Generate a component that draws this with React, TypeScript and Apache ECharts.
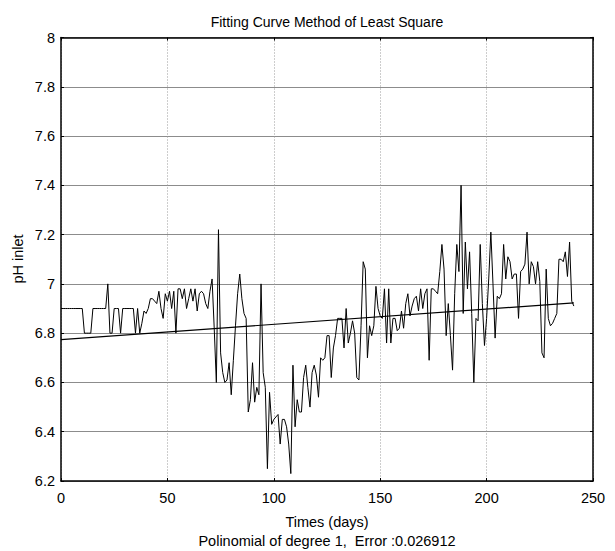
import React, { useEffect, useRef } from "react";
import * as echarts from "echarts";

const titleText = "Fitting Curve Method of Least Square";
const xAxisTitle = "Times (days)";
const subTitle = "Polinomial of degree 1,  Error :0.026912";
const yAxisTitle = "pH inlet";

// daily pH readings, index = day
const phValues: number[] = [
  6.9, 6.9, 6.9, 6.9, 6.9, 6.9, 6.9, 6.9, 6.9, 6.9,
  6.9, 6.8, 6.8, 6.8, 6.8, 6.9, 6.9, 6.9, 6.9, 6.9,
  6.9, 6.9, 7.0, 6.8, 6.8, 6.9, 6.9, 6.9, 6.8, 6.9,
  6.9, 6.9, 6.9, 6.9, 6.9, 6.8, 6.9, 6.8, 6.84, 6.89,
  6.88, 6.9, 6.94, 6.94, 6.93, 6.92, 6.97, 6.9, 6.86, 6.96,
  6.93, 6.97, 6.9, 6.97, 6.8, 6.98, 6.98, 6.94, 6.98, 6.9,
  6.94, 6.98, 6.93, 6.98, 6.89, 6.96, 6.97, 6.96, 6.92, 6.9,
  6.97, 7.02, 6.82, 6.6, 7.22, 6.72, 6.64, 6.6, 6.61, 6.68,
  6.55, 6.69, 6.83, 6.96, 7.04, 6.94, 6.88, 6.86, 6.48, 6.53,
  6.68, 6.52, 6.58, 6.55, 7.0, 6.64, 6.58, 6.25, 6.56, 6.43,
  6.45, 6.46, 6.47, 6.35, 6.45, 6.45, 6.42, 6.35, 6.23, 6.67,
  6.42, 6.53, 6.48, 6.48, 6.62, 6.67, 6.58, 6.5, 6.64, 6.67,
  6.63, 6.54, 6.7, 6.69, 6.7, 6.79, 6.79, 6.62, 6.74, 6.79,
  6.86, 6.86, 6.86, 6.74, 6.9, 6.76, 6.8, 6.85, 6.8, 6.62,
  6.61, 6.83, 7.09, 7.06, 6.7, 6.83, 6.79, 6.83, 6.99, 6.9,
  6.87, 6.86, 6.98, 6.76, 6.98, 6.76, 6.86, 6.86, 6.81, 6.82,
  6.89, 6.82, 6.92, 6.96, 6.87, 6.91, 6.94, 6.95, 6.89, 6.98,
  6.9, 6.96, 6.98, 6.69, 6.98, 6.98, 6.97, 6.96, 7.05, 7.16,
  7.06, 6.79, 6.92, 6.79, 6.65, 6.96, 7.16, 7.05, 7.4, 6.88,
  7.17, 6.98, 7.13, 6.88, 6.6, 6.86, 6.85, 7.16, 6.92, 6.75,
  6.86, 7.02, 7.21, 7.0, 6.78, 6.95, 6.94, 6.96, 7.16, 7.02,
  7.11, 7.09, 7.02, 7.04, 7.04, 6.86, 7.05, 7.06, 7.08, 7.21,
  7.0, 7.09, 7.07, 7.0, 7.09, 7.01, 6.72, 6.7, 7.06, 6.86,
  6.83, 6.84, 6.86, 6.88, 7.1, 7.1, 7.09, 7.13, 7.03, 7.17,
  6.93, 6.91,
];

// least-squares line (degree 1) endpoints
const fitDays: number[] = [0, 241];
const fitValues: number[] = [6.774, 6.923];

const xTicks = { min: 0, max: 250, interval: 50 };
const yTicks = { min: 6.2, max: 8, interval: 0.2 };

const FONT = "Liberation Sans, Arial, sans-serif";

export default function App() {
  const ref = useRef<HTMLDivElement>(null);
  useEffect(() => {
    if (!ref.current) return;
    const chart = echarts.init(ref.current, undefined, { renderer: "svg" });
    const dataPts = phValues.map((v, i) => [i, v]);
    const fitPts = fitDays.map((d, i) => [d, fitValues[i]]);
    const gridLeft = 61, gridTop = 37.5, gridRight = 22, gridBottom = 70;
    const commonX = {
      type: "value" as const,
      min: xTicks.min,
      max: xTicks.max,
      interval: xTicks.interval,
    };
    const commonY = {
      type: "value" as const,
      min: yTicks.min,
      max: yTicks.max,
      interval: yTicks.interval,
    };
    chart.setOption({
      animation: false,
      backgroundColor: "#ffffff",
      textStyle: { fontFamily: FONT },
      grid: { left: gridLeft, top: gridTop, right: gridRight, bottom: gridBottom, containLabel: false },
      xAxis: [
        {
          ...commonX,
          position: "bottom",
          axisLine: { show: true, onZero: false, lineStyle: { color: "#000", width: 1.5 } },
          axisTick: { show: true, inside: true, length: 3, lineStyle: { color: "#000" } },
          axisLabel: { color: "#000", fontSize: 14.5, margin: 9, fontFamily: FONT },
          splitLine: { show: true, lineStyle: { color: "#9a9a9a", type: [1, 2], width: 1 } },
        },
        {
          ...commonX,
          position: "top",
          axisLine: { show: true, onZero: false, lineStyle: { color: "#000", width: 1.5 } },
          axisTick: { show: true, inside: true, length: 3, lineStyle: { color: "#000" } },
          axisLabel: { show: false },
          splitLine: { show: false },
        },
      ],
      yAxis: [
        {
          ...commonY,
          position: "left",
          axisLine: { show: true, onZero: false, lineStyle: { color: "#000", width: 1.5 } },
          axisTick: { show: true, inside: true, length: 3, lineStyle: { color: "#000" } },
          axisLabel: {
            color: "#000",
            fontSize: 14.5,
            margin: 6,
            fontFamily: FONT,
            formatter: (v: number) => String(+v.toFixed(1)),
          },
          splitLine: { show: true, lineStyle: { color: "#8c8c8c", width: 1 } },
        },
        {
          ...commonY,
          position: "right",
          axisLine: { show: true, onZero: false, lineStyle: { color: "#000", width: 1.5 } },
          axisTick: { show: true, inside: true, length: 3, lineStyle: { color: "#000" } },
          axisLabel: { show: false },
          splitLine: { show: false },
        },
      ],
      series: [
        {
          type: "line",
          data: dataPts,
          xAxisIndex: 0,
          yAxisIndex: 0,
          showSymbol: false,
          symbol: "none",
          lineStyle: { color: "#000", width: 1 },
          z: 3,
        },
        {
          type: "line",
          data: fitPts,
          xAxisIndex: 0,
          yAxisIndex: 0,
          showSymbol: false,
          symbol: "none",
          lineStyle: { color: "#000", width: 1.2 },
          z: 4,
        },
      ],
      graphic: [
        {
          type: "text",
          x: 327,
          y: 22,
          style: {
            text: titleText,
            fontSize: 14,
            fontFamily: FONT,
            fill: "#000",
            align: "center",
            verticalAlign: "middle",
          },
        },
        {
          type: "text",
          x: 327,
          y: 522,
          style: {
            text: xAxisTitle,
            fontSize: 14.5,
            fontFamily: FONT,
            fill: "#000",
            align: "center",
            verticalAlign: "middle",
          },
        },
        {
          type: "text",
          x: 327,
          y: 541,
          style: {
            text: subTitle,
            fontSize: 14.5,
            fontFamily: FONT,
            fill: "#000",
            align: "center",
            verticalAlign: "middle",
          },
        },
        {
          type: "text",
          x: 18,
          y: 259,
          rotation: Math.PI / 2,
          style: {
            text: yAxisTitle,
            fontSize: 14.5,
            fontFamily: FONT,
            fill: "#000",
            align: "center",
            verticalAlign: "middle",
          },
        },
      ],
    });
    return () => chart.dispose();
  }, []);
  return (
    <div
      ref={ref}
      style={{ position: "absolute", left: 0, top: 0, width: 615, height: 551 }}
    />
  );
}
